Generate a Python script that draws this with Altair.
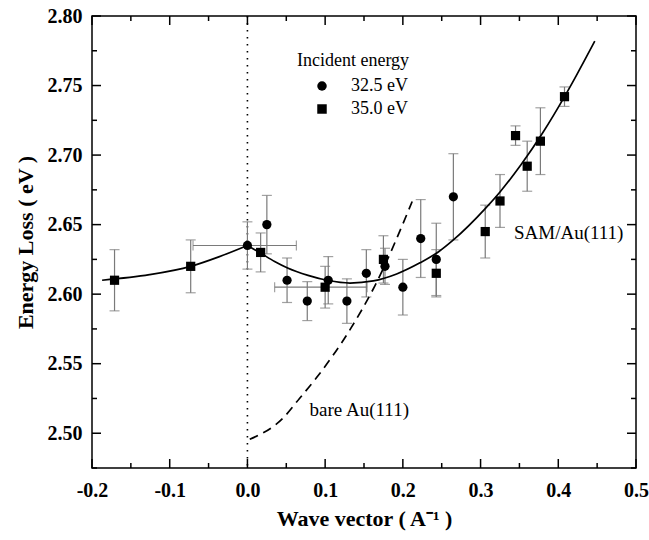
import altair as alt
import pandas as pd

# ---------------- data ----------------
# Incident energy 32.5 eV (circles)
q_325 = [0.000, 0.025, 0.051, 0.077, 0.104, 0.128, 0.153, 0.177, 0.200, 0.223, 0.243, 0.265]
e_325 = [2.635, 2.650, 2.610, 2.595, 2.610, 2.595, 2.615, 2.620, 2.605, 2.640, 2.625, 2.670]
err_325 = [0.017, 0.021, 0.016, 0.014, 0.017, 0.016, 0.017, 0.013, 0.020, 0.028, 0.026, 0.031]

# Incident energy 35.0 eV (squares)
q_350 = [-0.171, -0.073, 0.017, 0.100, 0.175, 0.243, 0.306, 0.325, 0.345, 0.360, 0.377, 0.408]
e_350 = [2.610, 2.620, 2.630, 2.605, 2.625, 2.615, 2.645, 2.667, 2.714, 2.692, 2.710, 2.742]
err_350 = [0.022, 0.019, 0.014, 0.015, 0.017, 0.017, 0.019, 0.019, 0.007, 0.018, 0.024, 0.007]

# horizontal error bars
xerr_e = [2.635, 2.605]
xerr_lo = [-0.070, 0.035]
xerr_hi = [0.063, 0.154]

# SAM/Au(111) solid curve: branch left of q=0 and branch right of q=0
fitL_q = [-0.187, -0.126, -0.073, -0.036, 0.000]
fitL_e = [2.610, 2.614, 2.620, 2.627, 2.635]
fitR_q = [0.000, 0.017, 0.035, 0.051, 0.078, 0.104, 0.132, 0.162, 0.192, 0.222,
          0.246, 0.265, 0.306, 0.325, 0.352, 0.380, 0.408, 0.423, 0.447]
fitR_e = [2.635, 2.6295, 2.6235, 2.619, 2.6135, 2.6098, 2.608, 2.6095, 2.6145, 2.6225,
          2.6305, 2.639, 2.6615, 2.6735, 2.693, 2.716, 2.742, 2.757, 2.782]

# bare Au(111) dashed curve
bare_q = [0.003, 0.046, 0.067, 0.089, 0.132, 0.164, 0.212]
bare_e = [2.4956, 2.511, 2.5250, 2.540, 2.5745, 2.606, 2.6666]

# axis ticks
x_major = [-0.2, -0.1, 0.0, 0.1, 0.2, 0.3, 0.4, 0.5]
x_minor = [-0.15, -0.05, 0.05, 0.15, 0.25, 0.35, 0.45]
y_major = [2.50, 2.55, 2.60, 2.65, 2.70, 2.75, 2.80]
y_minor = [2.475, 2.525, 2.575, 2.625, 2.675, 2.725, 2.775]

# annotations
ann_text = ["bare Au(111)", "SAM/Au(111)"]
ann_q = [0.080, 0.343]
ann_e = [2.517, 2.644]

# ---------------- tables ----------------
pts = pd.DataFrame({
    "q": q_325 + q_350,
    "e": e_325 + e_350,
    "lo": [a - b for a, b in zip(e_325, err_325)] + [a - b for a, b in zip(e_350, err_350)],
    "hi": [a + b for a, b in zip(e_325, err_325)] + [a + b for a, b in zip(e_350, err_350)],
    "energy": ["32.5 eV"] * len(q_325) + ["35.0 eV"] * len(q_350),
})
xerr = pd.DataFrame({"e": xerr_e, "lo": xerr_lo, "hi": xerr_hi})
fit = pd.DataFrame({
    "q": fitL_q + fitR_q,
    "e": fitL_e + fitR_e,
    "branch": ["L"] * len(fitL_q) + ["R"] * len(fitR_q),
})
bare = pd.DataFrame({"q": bare_q, "e": bare_e})
ann = pd.DataFrame({"q": ann_q, "e": ann_e, "t": ann_text})
xmaj = pd.DataFrame({"v": x_major})
xmin = pd.DataFrame({"v": x_minor})
ymaj = pd.DataFrame({"v": y_major})
ymin = pd.DataFrame({"v": y_minor})
zero = pd.DataFrame({"q": [0.0]})

W, H = 544, 452
FONT = "Liberation Serif"
GRAY = "#7a7a7a"

xs = alt.Scale(domain=[-0.2, 0.5], nice=False, zero=False)
ys = alt.Scale(domain=[2.475, 2.80], nice=False, zero=False)

xaxis = alt.Axis(
    values=x_major,
    labelExpr="datum.value < -0.0001 ? '-' + format(-datum.value, '.1f') : format(abs(datum.value), '.1f')",
    domain=False, ticks=False, grid=False,
    labelFont=FONT, labelFontSize=20, labelFontWeight="bold", labelColor="black",
    labelPadding=12, labelFlush=False,
    title="Wave vector ( A\u207b\u00b9 )", titleFont=FONT, titleFontSize=22,
    titleFontWeight="bold", titleColor="black", titlePadding=8,
)
yaxis = alt.Axis(
    values=y_major, format=".2f",
    domain=False, ticks=False, grid=False,
    labelFont=FONT, labelFontSize=20, labelFontWeight="bold", labelColor="black",
    labelPadding=10, labelFlush=False,
    title="Energy Loss ( eV )", titleFont=FONT, titleFontSize=22,
    titleFontWeight="bold", titleColor="black", titlePadding=10,
)


def X(f):
    return alt.X(f, type="quantitative", scale=xs, axis=xaxis)


def Y(f):
    return alt.Y(f, type="quantitative", scale=ys, axis=yaxis)


# dotted zero line
zline = alt.Chart(zero).mark_rule(color="black", strokeWidth=1.6, strokeDash=[1.6, 5.4]).encode(x=X("q"))

# vertical error bars
vbar = alt.Chart(pts).mark_rule(color=GRAY, strokeWidth=1.2).encode(x=X("q"), y=Y("lo"), y2="hi")
vcap_lo = alt.Chart(pts).mark_tick(color=GRAY, orient="horizontal", size=10, thickness=1.2).encode(x=X("q"), y=Y("lo"))
vcap_hi = alt.Chart(pts).mark_tick(color=GRAY, orient="horizontal", size=10, thickness=1.2).encode(x=X("q"), y=Y("hi"))

# horizontal error bars
hbar = alt.Chart(xerr).mark_rule(color=GRAY, strokeWidth=1.2).encode(x=X("lo"), x2="hi", y=Y("e"))
hcap_lo = alt.Chart(xerr).mark_tick(color=GRAY, orient="vertical", size=10, thickness=1.2).encode(x=X("lo"), y=Y("e"))
hcap_hi = alt.Chart(xerr).mark_tick(color=GRAY, orient="vertical", size=10, thickness=1.2).encode(x=X("hi"), y=Y("e"))

# curves
fit_line = alt.Chart(fit).mark_line(color="black", strokeWidth=1.7, interpolate="monotone").encode(
    x=X("q"), y=Y("e"), detail="branch:N", order="q:Q")
bare_line = alt.Chart(bare).mark_line(color="black", strokeWidth=1.7, strokeDash=[9, 6], interpolate="monotone").encode(
    x=X("q"), y=Y("e"), order="q:Q")

# points
points = alt.Chart(pts).mark_point(filled=True, color="black", opacity=1, size=85).encode(
    x=X("q"), y=Y("e"),
    shape=alt.Shape(
        "energy:N",
        scale=alt.Scale(domain=["32.5 eV", "35.0 eV"], range=["circle", "square"]),
        legend=alt.Legend(
            title="Incident energy", orient="none", legendX=205, legendY=36,
            titleFont=FONT, titleFontSize=18, titleFontWeight="normal", titleColor="black",
            labelFont=FONT, labelFontSize=18, labelColor="black",
            symbolSize=90, symbolFillColor="black", symbolStrokeColor="black", symbolStrokeWidth=0,
            symbolOffset=16, labelOffset=20, rowPadding=5, titlePadding=7, padding=0,
        ),
    ),
)

# annotations
texts = alt.Chart(ann).mark_text(font=FONT, fontSize=19, color="black", align="left", baseline="middle").encode(
    x=X("q"), y=Y("e"), text="t:N")

# inward ticks on all four sides
TK = dict(color="black", strokeWidth=1.5)
tb_maj = alt.Chart(xmaj).mark_rule(**TK).encode(x=X("v"), y=alt.value(H), y2=alt.value(H - 9))
tb_min = alt.Chart(xmin).mark_rule(**TK).encode(x=X("v"), y=alt.value(H), y2=alt.value(H - 5))
tt_maj = alt.Chart(xmaj).mark_rule(**TK).encode(x=X("v"), y=alt.value(0), y2=alt.value(9))
tt_min = alt.Chart(xmin).mark_rule(**TK).encode(x=X("v"), y=alt.value(0), y2=alt.value(5))
tl_maj = alt.Chart(ymaj).mark_rule(**TK).encode(y=Y("v"), x=alt.value(0), x2=alt.value(9))
tl_min = alt.Chart(ymin).mark_rule(**TK).encode(y=Y("v"), x=alt.value(0), x2=alt.value(5))
tr_maj = alt.Chart(ymaj).mark_rule(**TK).encode(y=Y("v"), x=alt.value(W), x2=alt.value(W - 9))
tr_min = alt.Chart(ymin).mark_rule(**TK).encode(y=Y("v"), x=alt.value(W), x2=alt.value(W - 5))

chart = alt.layer(
    zline, vbar, vcap_lo, vcap_hi, hbar, hcap_lo, hcap_hi,
    fit_line, bare_line, points, texts,
    tb_maj, tb_min, tt_maj, tt_min, tl_maj, tl_min, tr_maj, tr_min,
).properties(
    width=W, height=H,
    autosize=alt.AutoSizeParams(type="none"),
    padding={"left": 92, "top": 16, "right": 13, "bottom": 72},
    background="white",
).configure_view(
    stroke="black", strokeWidth=1.5,
)

chart.save("out.html", embed_options={"renderer": "svg", "actions": False})
